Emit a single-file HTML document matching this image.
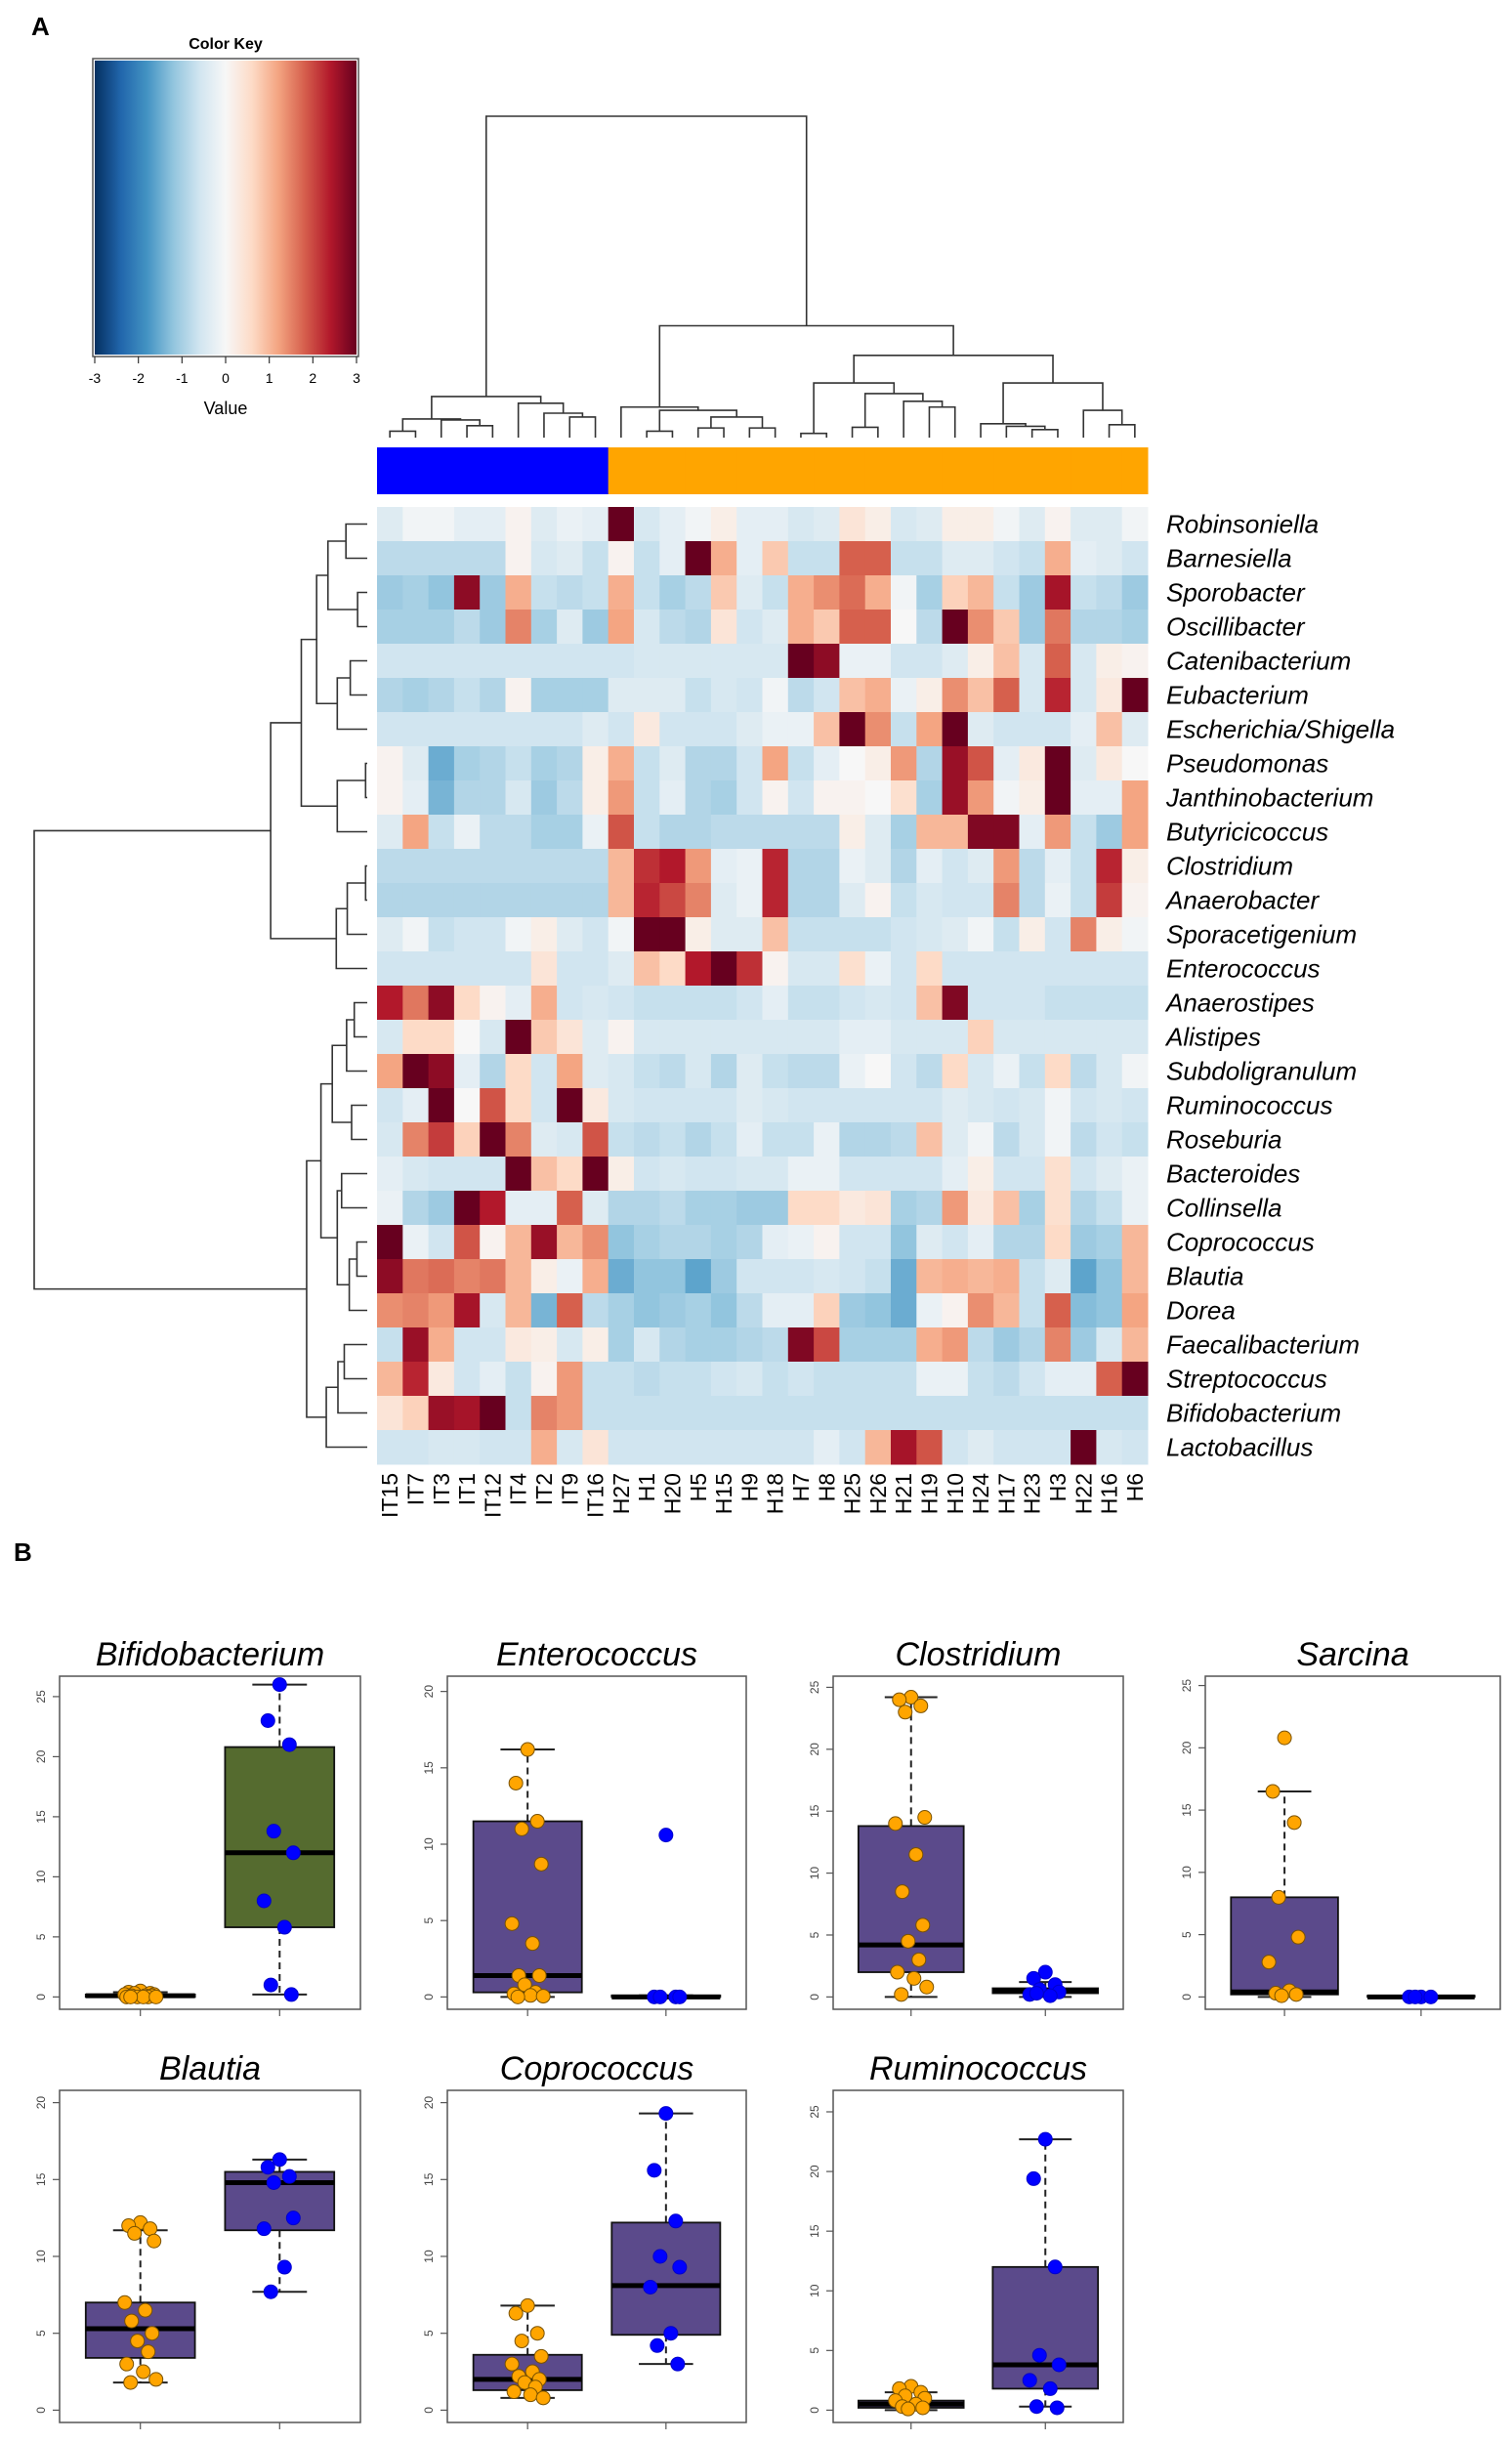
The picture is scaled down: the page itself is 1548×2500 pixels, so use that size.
<!DOCTYPE html>
<html><head><meta charset="utf-8">
<style>
html,body{margin:0;padding:0;background:#fff;}
svg{display:block;font-family:"Liberation Sans",Arial,sans-serif;}
</style></head>
<body>
<svg id="fig" width="1548" height="2500" viewBox="0 0 1548 2500" xmlns="http://www.w3.org/2000/svg">
<text x="32" y="36" font-size="26" font-weight="bold">A</text>
<text x="14" y="1598" font-size="26" font-weight="bold">B</text>
<defs>
<linearGradient id="rdbu" x1="0" x2="1" y1="0" y2="0">
<stop offset="0" stop-color="#053061"/><stop offset="0.1" stop-color="#2166ac"/><stop offset="0.2" stop-color="#4393c3"/><stop offset="0.3" stop-color="#92c5de"/><stop offset="0.4" stop-color="#d1e5f0"/><stop offset="0.5" stop-color="#f7f7f7"/><stop offset="0.6" stop-color="#fddbc7"/><stop offset="0.7" stop-color="#f4a582"/><stop offset="0.8" stop-color="#d6604d"/><stop offset="0.9" stop-color="#b2182b"/><stop offset="1" stop-color="#67001f"/>
</linearGradient>
</defs>
<g>
<text x="231" y="50" font-size="16" font-weight="bold" text-anchor="middle">Color Key</text>
<rect x="95" y="60" width="272" height="305" fill="#fff" stroke="#555" stroke-width="1.5"/>
<rect x="97" y="62" width="268" height="301" fill="url(#rdbu)"/>
<g id="keyticks"></g>
<text x="231" y="424" font-size="18" text-anchor="middle">Value</text>
</g>
<g id="heat"></g>
<g id="boxes"></g>
</svg>
<script>
const NS="http://www.w3.org/2000/svg";
function mk(tag,attrs,parent){const e=document.createElementNS(NS,tag);for(const k in attrs)e.setAttribute(k,attrs[k]);(parent||document.getElementById('fig')).appendChild(e);return e;}

// ---------- heatmap data ----------
const colLabels=["IT15","IT7","IT3","IT1","IT12","IT4","IT2","IT9","IT16","H27","H1","H20","H5","H15","H9","H18","H7","H8","H25","H26","H21","H19","H10","H24","H17","H23","H3","H22","H16","H6"];
const colGroups=["IT","IT","IT","IT","IT","IT","IT","IT","IT","H","H","H","H","H","H","H","H","H","H","H","H","H","H","H","H","H","H","H","H","H"];
const rowLabels=["Robinsoniella","Barnesiella","Sporobacter","Oscillibacter","Catenibacterium","Eubacterium","Escherichia/Shigella","Pseudomonas","Janthinobacterium","Butyricicoccus","Clostridium","Anaerobacter","Sporacetigenium","Enterococcus","Anaerostipes","Alistipes","Subdoligranulum","Ruminococcus","Roseburia","Bacteroides","Collinsella","Coprococcus","Blautia","Dorea","Faecalibacterium","Streptococcus","Bifidobacterium","Lactobacillus"];
const keyTicks=[-3,-2,-1,0,1,2,3];
const z=[
[-0.4,-0.1,-0.1,-0.3,-0.3,0.1,-0.4,-0.2,-0.3,3,-0.5,-0.3,-0.1,0.2,-0.3,-0.3,-0.5,-0.4,0.4,0.2,-0.5,-0.4,0.2,0.2,-0.1,-0.4,0.1,-0.4,-0.4,-0.1],
[-0.8,-0.8,-0.8,-0.8,-0.8,0.1,-0.5,-0.4,-0.7,0.1,-0.7,-0.3,3,1.1,-0.3,0.8,-0.7,-0.7,1.8,1.8,-0.7,-0.7,-0.4,-0.4,-0.6,-0.7,1.1,-0.3,-0.4,-0.6],
[-1.1,-1.0,-1.2,2.7,-1.1,1.1,-0.7,-0.8,-0.7,1.1,-0.7,-1.0,-0.8,0.8,-0.4,-0.7,1.1,1.4,1.7,1.1,-0.1,-1.0,0.7,1.0,-0.7,-1.1,2.5,-0.7,-0.8,-1.1],
[-1.0,-1.0,-1.0,-0.8,-1.1,1.5,-1.0,-0.4,-1.1,1.2,-0.5,-0.8,-0.9,0.4,-0.6,-0.4,1.1,0.8,1.8,1.8,0.0,-0.8,3,1.4,0.8,-1.1,1.6,-0.9,-0.9,-1.0],
[-0.6,-0.6,-0.6,-0.6,-0.6,-0.6,-0.6,-0.6,-0.6,-0.6,-0.5,-0.5,-0.5,-0.5,-0.5,-0.5,3,2.7,-0.2,-0.2,-0.6,-0.6,-0.4,0.2,0.9,-0.5,1.8,-0.5,0.2,0.1],
[-0.9,-1.0,-0.9,-0.7,-0.9,0.1,-1.0,-1.0,-1.0,-0.4,-0.4,-0.4,-0.7,-0.5,-0.6,-0.1,-0.8,-0.6,0.9,1.1,-0.2,0.2,1.4,0.9,1.8,-0.5,2.3,-0.5,0.3,3],
[-0.6,-0.6,-0.6,-0.6,-0.6,-0.6,-0.6,-0.6,-0.4,-0.6,0.3,-0.6,-0.6,-0.6,-0.4,-0.2,-0.2,0.9,3,1.4,-0.7,1.2,3,-0.4,-0.6,-0.6,-0.6,-0.3,0.9,-0.4],
[0.1,-0.4,-1.5,-1.0,-0.9,-0.7,-1.0,-0.9,0.2,1.1,-0.7,-0.4,-0.9,-0.9,-0.6,1.2,-0.7,-0.3,0.0,0.2,1.3,-0.9,2.6,1.9,-0.3,0.3,3,-0.4,0.3,0.0],
[0.1,-0.3,-1.4,-0.9,-0.9,-0.5,-1.1,-0.8,0.2,1.3,-0.7,-0.3,-0.9,-1.0,-0.6,0.1,-0.6,0.1,0.1,0.0,0.5,-1.0,2.6,1.3,-0.1,0.2,3,-0.3,-0.3,1.2],
[-0.4,1.2,-0.7,-0.2,-0.8,-0.8,-1.0,-1.0,-0.2,1.9,-0.7,-0.9,-0.9,-0.8,-0.8,-0.8,-0.8,-0.8,0.2,-0.4,-1.0,1.0,1.0,2.8,2.8,-0.3,1.3,-0.7,-1.1,1.2],
[-0.8,-0.8,-0.8,-0.8,-0.8,-0.8,-0.8,-0.8,-0.8,1.0,2.2,2.4,1.3,-0.3,-0.2,2.3,-0.9,-0.9,-0.2,-0.4,-0.9,-0.3,-0.6,-0.4,1.3,-0.8,-0.3,-0.7,2.3,0.2],
[-0.9,-0.9,-0.9,-0.9,-0.9,-0.9,-0.9,-0.9,-0.9,1.0,2.3,2.0,1.5,-0.4,-0.2,2.3,-0.9,-0.9,-0.4,0.1,-0.7,-0.5,-0.6,-0.6,1.5,-0.8,-0.2,-0.7,2.1,0.1],
[-0.4,-0.1,-0.7,-0.6,-0.6,-0.1,0.2,-0.4,-0.6,-0.1,3,3,0.2,-0.4,-0.4,0.9,-0.7,-0.7,-0.7,-0.7,-0.6,-0.5,-0.4,-0.1,-0.7,0.2,-0.6,1.5,0.2,-0.1],
[-0.6,-0.6,-0.6,-0.6,-0.6,-0.6,0.4,-0.6,-0.6,-0.4,0.9,0.6,2.4,3,2.2,0.1,-0.5,-0.5,0.5,-0.2,-0.6,0.6,-0.6,-0.6,-0.6,-0.6,-0.6,-0.6,-0.6,-0.6],
[2.4,1.6,2.7,0.6,0.1,-0.3,1.1,-0.6,-0.5,-0.6,-0.7,-0.7,-0.7,-0.7,-0.6,-0.3,-0.7,-0.7,-0.6,-0.5,-0.6,0.9,2.8,-0.6,-0.6,-0.6,-0.7,-0.7,-0.7,-0.7],
[-0.5,0.6,0.6,0.0,-0.5,3,0.8,0.4,-0.4,0.1,-0.5,-0.5,-0.5,-0.5,-0.5,-0.5,-0.5,-0.5,-0.3,-0.3,-0.5,-0.5,-0.5,0.7,-0.5,-0.5,-0.5,-0.5,-0.5,-0.5],
[1.2,3,2.7,-0.3,-0.9,0.6,-0.6,1.2,-0.4,-0.5,-0.7,-0.8,-0.5,-0.9,-0.4,-0.7,-0.8,-0.8,-0.2,0.0,-0.6,-0.8,0.6,-0.5,-0.2,-0.7,0.6,-0.8,-0.5,-0.1],
[-0.6,-0.3,3,0.0,1.9,0.6,-0.6,3,0.3,-0.5,-0.6,-0.6,-0.6,-0.6,-0.4,-0.5,-0.6,-0.6,-0.6,-0.6,-0.6,-0.6,-0.4,-0.5,-0.6,-0.5,-0.1,-0.6,-0.5,-0.6],
[-0.5,1.5,2.1,0.7,3,1.5,-0.4,-0.5,1.9,-0.7,-0.8,-0.7,-0.9,-0.7,-0.3,-0.7,-0.7,-0.2,-0.9,-0.9,-0.8,0.9,-0.4,-0.1,-0.8,-0.5,-0.1,-0.8,-0.6,-0.7],
[-0.3,-0.5,-0.6,-0.6,-0.6,3,0.9,0.6,3,0.2,-0.6,-0.5,-0.6,-0.6,-0.5,-0.5,-0.2,-0.2,-0.6,-0.6,-0.6,-0.6,-0.3,0.2,-0.6,-0.6,0.5,-0.6,-0.4,-0.2],
[-0.2,-0.9,-1.1,3,2.4,-0.3,-0.3,1.8,-0.4,-0.9,-0.9,-0.8,-1.0,-1.0,-1.1,-1.1,0.6,0.6,0.3,0.4,-1.0,-0.9,1.3,0.3,0.9,-1.0,0.5,-0.9,-0.7,-0.2],
[3,-0.2,-0.6,1.9,0.1,1.0,2.6,1.0,1.4,-1.2,-1.0,-0.9,-0.9,-1.0,-0.9,-0.3,-0.2,0.1,-0.6,-0.6,-1.2,-0.4,-0.6,-0.3,-0.9,-0.9,0.6,-1.1,-1.0,1.0],
[2.7,1.6,1.7,1.5,1.6,1.0,0.2,-0.2,1.1,-1.5,-1.2,-1.2,-1.6,-1.1,-0.6,-0.6,-0.6,-0.5,-0.6,-0.7,-1.5,1.0,1.1,1.0,1.1,-0.7,-0.4,-1.6,-1.2,1.0],
[1.4,1.5,1.3,2.5,-0.5,1.0,-1.4,1.8,-0.8,-1.0,-1.2,-1.1,-1.0,-1.2,-0.8,-0.3,-0.3,0.7,-1.1,-1.2,-1.5,-0.2,0.1,1.4,1.0,-0.7,1.8,-1.3,-1.2,1.2],
[-0.7,2.6,1.1,-0.6,-0.6,0.3,0.2,-0.5,0.2,-1.0,-0.5,-0.9,-1.0,-1.0,-0.9,-0.8,2.8,2.0,-1.0,-1.0,-1.0,1.1,1.3,-0.8,-1.1,-0.9,1.5,-1.1,-0.5,1.0],
[1.0,2.3,0.3,-0.6,-0.3,-0.7,0.1,1.3,-0.7,-0.7,-0.8,-0.7,-0.7,-0.6,-0.5,-0.7,-0.6,-0.7,-0.7,-0.7,-0.7,-0.2,-0.2,-0.7,-0.8,-0.6,-0.3,-0.3,1.8,3],
[0.4,0.7,2.6,2.5,3,-0.7,1.5,1.3,-0.7,-0.7,-0.7,-0.7,-0.7,-0.7,-0.7,-0.7,-0.7,-0.7,-0.7,-0.7,-0.7,-0.7,-0.7,-0.7,-0.7,-0.7,-0.7,-0.7,-0.7,-0.7],
[-0.6,-0.6,-0.5,-0.5,-0.6,-0.6,1.1,-0.5,0.4,-0.6,-0.6,-0.6,-0.6,-0.6,-0.6,-0.6,-0.6,-0.3,-0.6,1.0,2.5,1.9,-0.6,-0.4,-0.6,-0.6,-0.6,3,-0.5,-0.6]
];
// dendrograms: [height, left, right], leaves = index
const colTree=[100,[12.8,[5.8,[2,0,1],[5.5,2,[3.7,3,4]]],[10.7,5,[7.6,6,[6.4,7,8]]]],
 [34.8,[9.5,9,[8.5,[2,10,11],[6.4,[3,12,13],[3,14,15]]]],
  [25.6,[17,[1.3,16,17],[13.7,[3.2,18,19],[11.3,20,[9.5,21,22]]]],
   [17,[4.3,23,[3.5,24,[2.5,25,26]]],[8.5,27,[4,28,29]]]]]];
const rowTree=[100,
 [29,[19.8,[15.2,[11.8,[6.4,0,1],[2.9,2,3]],[9,[5.1,4,5],6]],[9,[0.5,7,8],9]],[9.3,[6,[0.5,10,11],12],13]],
 [18.2,[13.9,[10.5,[6.2,[3.9,14,15],16],[4.7,17,18]],[9,[7.7,19,20],[5.4,[3.1,21,22],23]]],[12.3,[8.8,[6.9,24,25],26],27]]];

const HX=386,HY=519,CW=789/30,RH=980/28;
const stops=["#053061","#2166ac","#4393c3","#92c5de","#d1e5f0","#f7f7f7","#fddbc7","#f4a582","#d6604d","#b2182b","#67001f"];
function hex(c){return [parseInt(c.slice(1,3),16),parseInt(c.slice(3,5),16),parseInt(c.slice(5,7),16)];}
function colorOf(v){let t=(Math.max(-3,Math.min(3,v))+3)/6*10;let i=Math.min(9,Math.floor(t));let f=t-i;const a=hex(stops[i]),b=hex(stops[i+1]);return `rgb(${a.map((x,k)=>Math.round(x+(b[k]-x)*f)).join(',')})`;}

const heat=document.getElementById('heat');
const kt=document.getElementById('keyticks');
keyTicks.forEach(v=>{const x=97+(v+3)/6*268;
 const l=mk('line',{x1:x,x2:x,y1:365,y2:372,stroke:'#333','stroke-width':1.2},kt);
 
 
 const t=mk('text',{x:x,y:392,'font-size':14,'text-anchor':'middle'},kt);t.textContent=v;
 
 });

z.forEach((row,r)=>row.forEach((v,c)=>{
 const e=mk('rect',{x:HX+c*CW,y:HY+r*RH,width:CW+0.5,height:RH+0.5,fill:colorOf(v)},heat);
 
 
}));
colGroups.forEach((g,c)=>{const e=mk('rect',{x:HX+c*CW,y:458,width:CW+0.5,height:48,fill:g==='IT'?'#0000ff':'#ffa500'},heat);
 
 });
rowLabels.forEach((s,r)=>{const t=mk('text',{x:1194,y:HY+(r+0.5)*RH+9,'font-size':26,'font-style':'italic'},heat);t.textContent=s;
 
 });
colLabels.forEach((s,c)=>{const x=HX+(c+0.5)*CW+8;const t=mk('text',{x:x,y:1508,'font-size':23,'text-anchor':'end',transform:`rotate(-90 ${x} 1508)`},heat);t.textContent=s;
 
 });
function drawTree(node,pos,hpos){
 if(typeof node==='number')return {p:pos(node),h:hpos(0)};
 const a=drawTree(node[1],pos,hpos),b=drawTree(node[2],pos,hpos);
 const h=hpos(node[0]),p=(a.p+b.p)/2;
 return {p,h,a,b,draw:true};
}
function render(res,vertical,name){
 if(!res.draw)return;
 let d;
 if(vertical)d=`M${res.a.p},${res.a.h}V${res.h}H${res.b.p}V${res.b.h}`;
 else d=`M${res.a.h},${res.a.p}H${res.h}V${res.b.p}H${res.b.h}`;
 const e=mk('path',{d,fill:'none',stroke:'#333','stroke-width':1.6},heat);
 
 
 render(res.a,vertical,name);render(res.b,vertical,name);
}
const ct=drawTree(colTree,i=>HX+(i+0.5)*CW,h=>448-h*3.29);
render(ct,true,'column-dendrogram');
const rt=drawTree(rowTree,i=>HY+(i+0.5)*RH,h=>376-h*3.41);
render(rt,false,'row-dendrogram');

// ---------- boxplots ----------
const panelTitles=["Bifidobacterium","Enterococcus","Clostridium","Sarcina","Blautia","Coprococcus","Ruminococcus"];
const yMaxes=[26.7,21,25.9,25.75,20.8,20.8,26.8];
const yTickMax=[25,20,25,25,20,20,25];
const hStats=[[0,0,0.1,0.2,0.4],[0,0.3,1.4,11.5,16.2],[0,2,4.2,13.8,24.2],[0,0.2,0.4,8,16.5],[1.8,3.4,5.3,7,11.7],[0.8,1.3,2,3.6,6.8],[0,0.2,0.5,0.8,1.5]];
const itStats=[[0.2,5.8,12,20.8,26],[0,0,0,0.1,0.1],[0,0.3,0.5,0.7,1.2],[0,0,0,0.1,0.1],[7.7,11.7,14.8,15.5,16.3],[3,4.9,8.1,12.2,19.3],[0.3,1.8,3.8,12,22.7]];
const hPoints=[[0.5,0.4,0.3,0.3,0.2,0.2,0.1,0.1,0.1,0,0,0,0,0,0],[16.2,14,11.5,11,8.7,4.8,3.5,1.4,1.4,0.8,0.3,0.2,0.1,0.05,0],[24.2,24,23.5,23,14.5,14,11.5,8.5,5.8,4.5,3,2,1.5,0.8,0.2],[20.8,16.5,14,8,4.8,2.8,0.5,0.3,0.2,0.1],[12.2,12,11.8,11.5,11,7,6.5,5.8,5,4.5,3.8,3,2.5,2,1.8],[6.8,6.3,5,4.5,3.5,3,2.5,2.2,2,1.8,1.5,1.2,1,0.8],[2,1.8,1.5,1.2,1,0.8,0.5,0.3,0.2,0.1]];
const itPoints=[[26,23,21,13.8,12,8,5.8,1,0.2],[10.6,0,0,0,0],[2,1.5,1,0.6,0.4,0.2,0.1,0.3],[0,0,0,0],[16.3,15.8,15.2,14.8,12.5,11.8,9.3,7.7],[19.3,15.6,12.3,10,9.3,8,5,4.2,3],[22.7,19.4,12,4.6,3.8,2.5,1.8,0.3,0.2]];
const boxFills=["#556b2f","#5b4a8b","#5b4a8b","#5b4a8b","#5b4a8b","#5b4a8b","#5b4a8b"];
const hBoxFill=["#5b4a8b","#5b4a8b","#5b4a8b","#5b4a8b","#5b4a8b","#5b4a8b","#5b4a8b"];

const frames=[[61,1716,369,2057],[458,1716,764,2057],[853,1716,1150,2057],[1234,1716,1536,2057],[61,2140,369,2480],[458,2140,764,2480],[853,2140,1150,2480]];
const bx=document.getElementById('boxes');
const jit=[0,-12,10,-6,14,-16,5,-9,12,-3,8,-14,3,16,-10];
frames.forEach((f,i)=>{
 const [L,T,R,B]=f,W=R-L,H=B-T;
 const ymin=-0.04*yMaxes[i]/1.04, ymax=yMaxes[i];
 const ys=v=>B-(v-ymin)/(ymax-ymin)*H;
 const xs=g=>L+W*((g-0.42)/2.16);
 const g=mk('g',{},bx);
 
 
 const tt=mk('text',{x:(L+R)/2,y:T-11,'font-size':34,'font-style':'italic','text-anchor':'middle'},g);tt.textContent=panelTitles[i];
 
 
 const fr=mk('rect',{x:L,y:T,width:W,height:H,fill:'none',stroke:'#555','stroke-width':1.5},g);
 
 
 for(let v=0;v<=yTickMax[i];v+=5){const y=ys(v);
  const l=mk('line',{x1:L-7,x2:L,y1:y,y2:y,stroke:'#555','stroke-width':1.2},g);
  
  
  const t=mk('text',{x:L-15,y:y,'font-size':12,fill:'#444','text-anchor':'middle',transform:`rotate(-90 ${L-15} ${y})`},g);t.textContent=v;
  
  }
 [1,2].forEach(k=>{const x=xs(k);const l=mk('line',{x1:x,x2:x,y1:B,y2:B+7,stroke:'#555','stroke-width':1.2},g);
  
  });
 [[hStats[i],hBoxFill[i],1,hPoints[i],'#ffa500','h'],[itStats[i],boxFills[i],2,itPoints[i],'#0000ff','it']].forEach(([s,fill,k,pts,pc,nm])=>{
  const cx=xs(k),bw=W*0.8/2.16*0.98/2;
  const w1=mk('line',{x1:cx,x2:cx,y1:ys(s[3]),y2:ys(s[4]),stroke:'#222','stroke-width':2,'stroke-dasharray':'7,5'},g);
  
  
  const w2=mk('line',{x1:cx,x2:cx,y1:ys(s[1]),y2:ys(s[0]),stroke:'#222','stroke-width':2,'stroke-dasharray':'7,5'},g);
  
  
  [s[0],s[4]].forEach(v=>{const c=mk('line',{x1:cx-bw/2,x2:cx+bw/2,y1:ys(v),y2:ys(v),stroke:'#222','stroke-width':2},g);
   
   });
  const bxr=mk('rect',{x:cx-bw,y:ys(s[3]),width:2*bw,height:Math.max(1,ys(s[1])-ys(s[3])),fill:fill,stroke:'#111','stroke-width':1.8},g);
  
  
  const md=mk('line',{x1:cx-bw,x2:cx+bw,y1:ys(s[2]),y2:ys(s[2]),stroke:'#000','stroke-width':5},g);
  
  
  pts.forEach((v,j)=>{const p=mk('circle',{cx:cx+jit[j%jit.length],cy:ys(v),r:7,fill:pc,stroke:nm==='h'?'#7a5200':'#0000cc','stroke-width':1},g);
   
   });
 });
});
</script>
</body></html>
